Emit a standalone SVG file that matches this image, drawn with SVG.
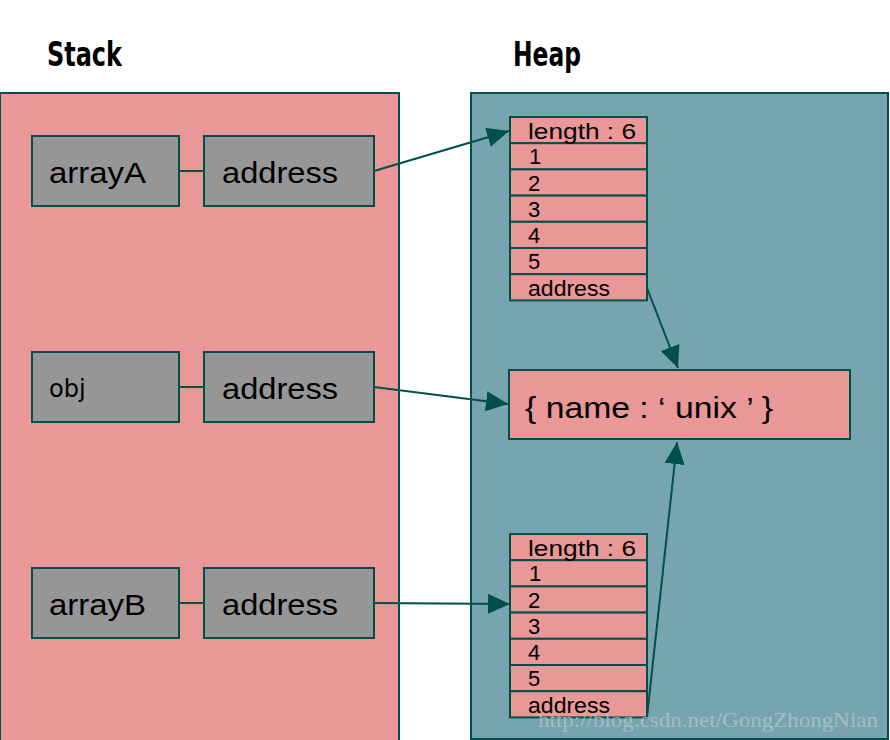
<svg xmlns="http://www.w3.org/2000/svg" width="890" height="740" viewBox="0 0 890 740">
<style>
.panel{stroke:#004f4b;stroke-width:2}
.pink{fill:#e99797}
.teal{fill:#76a5af}
.var{fill:#969696;stroke:#004f4b;stroke-width:2}
.cell{fill:#e99797;stroke:#004f4b;stroke-width:2}
.conn{stroke:#004f4b;stroke-width:2;fill:none}
.title{font-family:"DejaVu Sans Condensed","DejaVu Sans",sans-serif;font-weight:bold;font-size:34px;fill:#000}
.big{font-family:"Liberation Sans",Arial,sans-serif;font-size:30px;fill:#000}
.mid{font-family:"DejaVu Sans",sans-serif;font-size:24px;fill:#000}
.sm{font-family:"Liberation Sans",Arial,sans-serif;font-size:22px;fill:#000}
.wm{font-family:"Liberation Serif","DejaVu Serif",serif;font-size:22px;fill:#b4c4c8;opacity:0.75}
</style>
<defs>
<marker id="ah2" viewBox="0 0 10 10" refX="10" refY="5" markerWidth="22" markerHeight="20" markerUnits="userSpaceOnUse" orient="auto" preserveAspectRatio="none">
<path d="M0,0 L10,5 L0,10 z" fill="#004f4b"/>
</marker>
</defs>
<rect width="890" height="740" fill="#fff"/>
<text class="title" x="47" y="66" textLength="75" lengthAdjust="spacingAndGlyphs">Stack</text>
<text class="title" x="513" y="66" textLength="68" lengthAdjust="spacingAndGlyphs">Heap</text>
<g id="stack">
<rect class="panel pink" x="0" y="93" width="399" height="660"/>
</g>
<g id="heap">
<rect class="panel teal" x="471" y="93" width="417" height="646"/>
</g>
<g id="arrayA">
<rect class="var" x="32" y="136" width="147" height="70"/>
<text class="big" x="49" y="183" textLength="97" lengthAdjust="spacingAndGlyphs">arrayA</text>
</g>
<g id="addrA">
<rect class="var" x="204" y="136" width="170" height="70"/>
<text class="big" x="222" y="183" textLength="116" lengthAdjust="spacingAndGlyphs">address</text>
</g>
<g id="obj">
<rect class="var" x="32" y="352" width="147" height="70"/>
<text class="mid" x="49" y="397">obj</text>
</g>
<g id="addrObj">
<rect class="var" x="204" y="352" width="170" height="70"/>
<text class="big" x="222" y="399" textLength="116" lengthAdjust="spacingAndGlyphs">address</text>
</g>
<g id="arrayB">
<rect class="var" x="32" y="568" width="147" height="70"/>
<text class="big" x="49" y="615" textLength="97" lengthAdjust="spacingAndGlyphs">arrayB</text>
</g>
<g id="addrB">
<rect class="var" x="204" y="568" width="170" height="70"/>
<text class="big" x="222" y="615" textLength="116" lengthAdjust="spacingAndGlyphs">address</text>
</g>
<g id="heapArrayA">
<rect class="cell" x="510" y="117" width="137" height="26.2"/>
<rect class="cell" x="510" y="143.2" width="137" height="26.2"/>
<rect class="cell" x="510" y="169.4" width="137" height="26.2"/>
<rect class="cell" x="510" y="195.6" width="137" height="26.2"/>
<rect class="cell" x="510" y="221.8" width="137" height="26.2"/>
<rect class="cell" x="510" y="248" width="137" height="26.2"/>
<rect class="cell" x="510" y="274.2" width="137" height="26.2"/>
<text class="sm" x="528" y="139" textLength="108" lengthAdjust="spacingAndGlyphs">length : 6</text>
<text class="sm" x="529" y="164">1</text>
<text class="sm" x="528" y="191">2</text>
<text class="sm" x="528" y="217">3</text>
<text class="sm" x="528" y="243">4</text>
<text class="sm" x="528" y="269">5</text>
<text class="sm" x="528" y="296" textLength="82" lengthAdjust="spacingAndGlyphs">address</text>
</g>
<g id="heapObj">
<rect class="cell" x="509" y="370" width="341" height="69"/>
<text class="big" x="525" y="418" textLength="248" lengthAdjust="spacingAndGlyphs">{ name : ‘ unix ’ }</text>
</g>
<g id="heapArrayB">
<rect class="cell" x="510" y="534" width="137" height="26.2"/>
<rect class="cell" x="510" y="560.2" width="137" height="26.2"/>
<rect class="cell" x="510" y="586.4" width="137" height="26.2"/>
<rect class="cell" x="510" y="612.6" width="137" height="26.2"/>
<rect class="cell" x="510" y="638.8" width="137" height="26.2"/>
<rect class="cell" x="510" y="665" width="137" height="26.2"/>
<rect class="cell" x="510" y="691.2" width="137" height="26.2"/>
<text class="sm" x="528" y="556" textLength="108" lengthAdjust="spacingAndGlyphs">length : 6</text>
<text class="sm" x="529" y="581">1</text>
<text class="sm" x="528" y="608">2</text>
<text class="sm" x="528" y="634">3</text>
<text class="sm" x="528" y="660">4</text>
<text class="sm" x="528" y="686">5</text>
<text class="sm" x="528" y="713" textLength="82" lengthAdjust="spacingAndGlyphs">address</text>
</g>
<g id="connectors">
<line class="conn" x1="179" y1="171" x2="204" y2="171"/>
<line class="conn" x1="179" y1="387" x2="204" y2="387"/>
<line class="conn" x1="179" y1="603" x2="204" y2="603"/>
<line class="conn" x1="374" y1="171" x2="509" y2="131" marker-end="url(#ah2)"/>
<line class="conn" x1="374" y1="387" x2="508" y2="404" marker-end="url(#ah2)"/>
<line class="conn" x1="374" y1="603" x2="510" y2="604" marker-end="url(#ah2)"/>
<line class="conn" x1="647" y1="288" x2="678" y2="368" marker-end="url(#ah2)"/>
<line class="conn" x1="647" y1="717" x2="677" y2="442" marker-end="url(#ah2)"/>
</g>
<text class="wm" x="538" y="727" textLength="340" lengthAdjust="spacingAndGlyphs">http://blog.csdn.net/GongZhongNian</text>
</svg>
